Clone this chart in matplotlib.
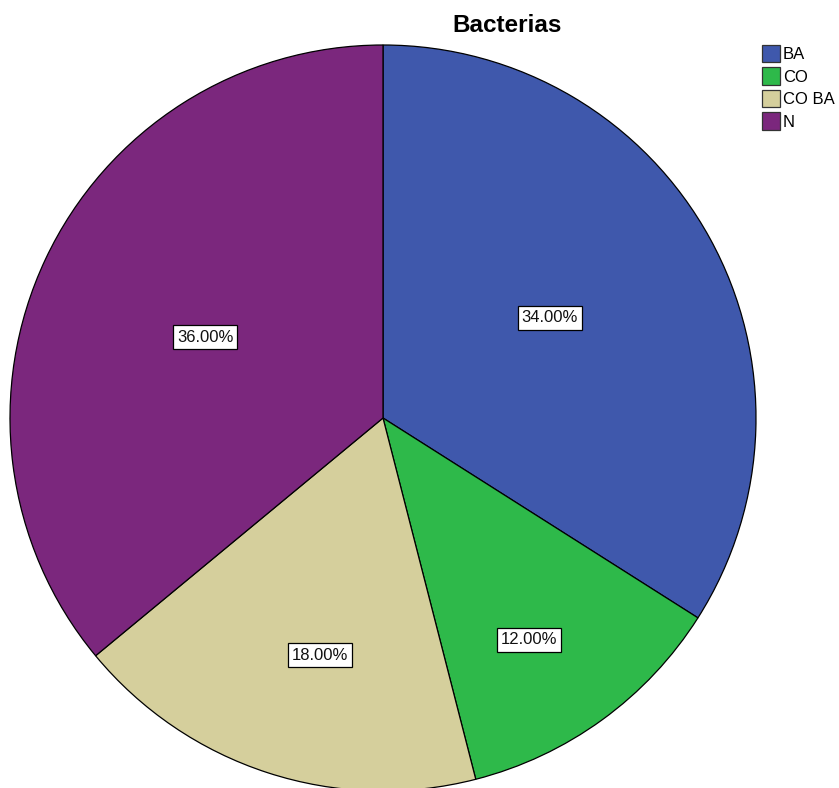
import matplotlib
matplotlib.use("Agg")
import matplotlib.pyplot as plt
from matplotlib.patches import Patch

categories = ["BA", "CO", "CO BA", "N"]
percents = [34.0, 12.0, 18.0, 36.0]
colors = ["#3F58AC", "#2EB94A", "#D5CF9C", "#7B277D"]

W, H = 839, 788
fig = plt.figure(figsize=(W / 100, H / 100), dpi=100)

# pie centred at (383, 418) px with a 373 px radius
cx, cy, r = 383, 418, 373
ax = fig.add_axes([(cx - r) / W, (H - cy - r) / H, 2 * r / W, 2 * r / H])
wedges, texts, autotexts = ax.pie(
    percents, colors=colors, startangle=90, counterclock=False,
    autopct="%.2f%%", pctdistance=0.55,
    wedgeprops=dict(edgecolor="black", linewidth=0.9),
    textprops=dict(fontsize=12, family="Liberation Sans", color="#111111"),
)
ax.set_xlim(-1, 1)
ax.set_ylim(-1, 1)
ax.set_aspect("equal")

# label offsets from centre, in px
offsets = [(167, -100), (146, 222), (-63, 237), (-178, -81)]
for t, (dx, dy) in zip(autotexts, offsets):
    t.set_position((dx / r, -dy / r))
    t.set_bbox(dict(facecolor="white", edgecolor="black", linewidth=0.9, pad=3))

fig.text(507 / W, 1 - 25 / H, "Bacterias", ha="center", va="center",
         fontsize=17.5, fontweight="bold", family="Liberation Sans")

handles = [Patch(facecolor=c, edgecolor="#333333", linewidth=0.9) for c in colors]
fig.legend(handles, categories, loc="upper left", bbox_to_anchor=(762 / W, 1 - 45 / H),
           frameon=False, prop=dict(family="Liberation Sans", size=12),
           handlelength=1.05, handleheight=1.2, handletextpad=0.2, labelspacing=0.32,
           borderpad=0, borderaxespad=0)

fig.savefig("out.png", dpi=100, facecolor="white")
